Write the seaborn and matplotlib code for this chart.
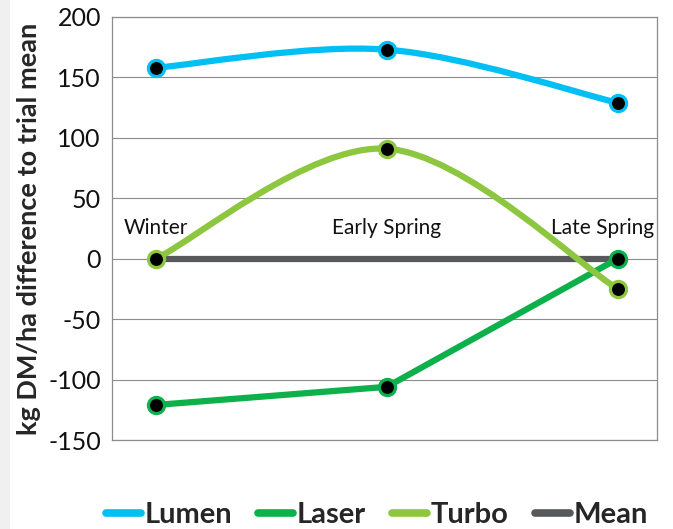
import numpy as np
import pandas as pd
import seaborn as sns
import matplotlib.pyplot as plt
from matplotlib.path import Path
from matplotlib.patches import PathPatch, Rectangle
from matplotlib.lines import Line2D

seasons = ["Winter", "Early Spring", "Late Spring"]
lumen = [158, 173, 129]
laser = [-121, -106, 0]
turbo = [0, 91, -25]
mean = [0, 0, 0]

colors = {"Lumen": "#00bff3", "Laser": "#0db04b", "Turbo": "#8dc63f", "Mean": "#58595b"}

sns.set_style("white")
plt.rcParams["font.family"] = ["Lato", "DejaVu Sans"]
plt.rcParams["axes.unicode_minus"] = False

fig = plt.figure(figsize=(6.73, 5.29), dpi=100)
fig.patches.append(Rectangle((0, 0), 10 / 673, 1, transform=fig.transFigure,
                             facecolor="#f0f0f0", edgecolor="none", zorder=0))
ax = fig.add_axes([112 / 673, 1 - 440 / 529, 545 / 673, 423 / 529])

x = np.arange(len(seasons))
df = pd.DataFrame({"x": np.tile(x, 4),
                   "value": lumen + laser + turbo + mean,
                   "variety": np.repeat(["Lumen", "Laser", "Turbo", "Mean"], 3)})


def smooth_path(xs, ys):
    # Excel-style smoothed line: catmull-rom -> cubic bezier
    pts = np.column_stack([xs, ys]).astype(float)
    p = np.vstack([pts[0], pts, pts[-1]])
    verts = [pts[0]]
    codes = [Path.MOVETO]
    for i in range(1, len(p) - 2):
        c1 = p[i] + (p[i + 1] - p[i - 1]) / 6
        c2 = p[i + 1] - (p[i + 2] - p[i]) / 6
        verts += [c1, c2, p[i + 1]]
        codes += [Path.CURVE4] * 3
    return Path(verts, codes)


# straight series
sns.lineplot(data=df[df.variety == "Mean"], x="x", y="value", color=colors["Mean"],
             lw=4.5, ax=ax, zorder=2, legend=False)
sns.lineplot(data=df[df.variety == "Laser"], x="x", y="value", color=colors["Laser"],
             lw=4.5, ax=ax, zorder=3, legend=False)

# smoothed series
for name, vals in [("Lumen", lumen), ("Turbo", turbo)]:
    ax.add_patch(PathPatch(smooth_path(x, vals), facecolor="none",
                           edgecolor=colors[name], lw=4.5, zorder=3, capstyle="round"))

for name, vals in [("Laser", laser), ("Lumen", lumen), ("Turbo", turbo)]:
    sns.scatterplot(x=x, y=vals, color="black", edgecolor=colors[name], linewidth=2.3,
                    s=135, ax=ax, zorder=5, legend=False)

ax.set_xlim(-0.19, 2.17)
ax.set_ylim(-150, 200)
ax.set_yticks(range(-150, 201, 50))
ax.grid(axis="y", color="#8c8c8c", lw=0.8)
ax.set_axisbelow(True)
for s in ax.spines.values():
    s.set_visible(True)
    s.set_color("#8c8c8c")
    s.set_linewidth(0.9)
ax.set_xticks([])
ax.set_xlabel("")
ax.tick_params(axis="y", length=0, labelsize=18, pad=8, labelcolor="#111111")
ax.set_ylabel("kg DM/ha difference to trial mean", fontsize=19.5, fontweight="bold",
              labelpad=5)

# category labels sit just above the zero line
for i, lab in enumerate(seasons):
    if i == len(seasons) - 1:
        ax.annotate(lab, xy=(2.17, 0), xytext=(-2, 18), textcoords="offset points",
                    ha="right", va="baseline", fontsize=15, color="#111111")
    else:
        ax.annotate(lab, xy=(i, 0), xytext=(0, 18), textcoords="offset points",
                    ha="center", va="baseline", fontsize=15, color="#111111")

handles = [Line2D([], [], color=colors[n], lw=5.5) for n in ["Lumen", "Laser", "Turbo", "Mean"]]
fig.legend(handles, ["Lumen", "Laser", "Turbo", "Mean"], loc="center",
           bbox_to_anchor=(0.56, 0.027), ncol=4, frameon=False, handlelength=1.2,
           handletextpad=0.12, columnspacing=0.9,
           prop={"size": 21, "weight": "bold"})

fig.savefig("out.png", dpi=100)
